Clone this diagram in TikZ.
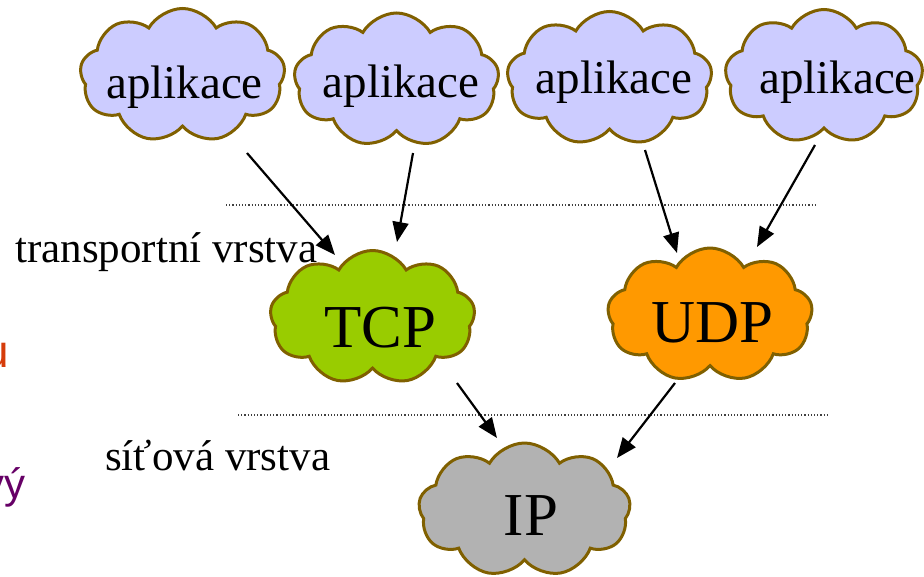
\documentclass[tikz,border=0pt]{standalone}
\usepackage{fontspec}
\setmainfont{Liberation Serif}
\newfontfamily\slidesans{Liberation Sans}
\usetikzlibrary{shapes.symbols,arrows.meta}
\definecolor{cloudline}{RGB}{128,96,0}
\definecolor{appfill}{RGB}{204,204,255}
\definecolor{tcpfill}{RGB}{153,204,0}
\definecolor{udpfill}{RGB}{255,153,0}
\definecolor{ipfill}{RGB}{178,178,178}
\definecolor{redtext}{RGB}{214,60,10}
\definecolor{purpletext}{RGB}{102,0,102}
\tikzset{
  cloudbox/.style={cloud, cloud puffs=9, cloud puff arc=120, cloud ignores aspect,
    draw=cloudline, line width=3pt, inner sep=0pt,
    minimum width=205pt, minimum height=134pt},
  apptext/.style={anchor=base, inner sep=0pt, font=\fontsize{47}{50}\selectfont},
  bigtext/.style={anchor=base, inner sep=0pt, font=\fontsize{61}{64}\selectfont},
  layertext/.style={anchor=base west, inner sep=0pt, font=\fontsize{43}{46}\selectfont},
  link/.style={line width=2.2pt, -{Triangle[length=20pt,width=16pt]}},
  sep/.style={line width=1.2pt, black!75, dash pattern=on 1.2pt off 2pt},
}
\begin{document}
\begin{tikzpicture}[x=1pt,y=-1pt]
\useasboundingbox (0,0) rectangle (924,576);
% clouds
\node[cloudbox, fill=appfill] (c1) at (182.5,75.5) {};
\node[cloudbox, fill=appfill] (c2) at (396.5,80) {};
\node[cloudbox, fill=appfill] (c3) at (609.5,78.5) {};
\node[cloudbox, fill=appfill, minimum width=198pt] (c4) at (824,76.5) {};
\node[cloudbox, fill=tcpfill] (tcp) at (372.5,317.5) {};
\node[cloudbox, fill=udpfill] (udp) at (710,315) {};
\node[cloudbox, fill=ipfill, minimum width=212pt] (ip) at (524.5,510) {};
% texts
\node[apptext] (t1) at (184.5,98) {aplikace};
\node[apptext] (t2) at (401,97) {aplikace};
\node[apptext] (t3) at (614,93) {aplikace};
\node[apptext] (t4) at (837.5,93) {aplikace};
\node[bigtext] (ttcp) at (380,347) {TCP};
\node[bigtext] (tudp) at (712.5,342) {UDP};
\node[bigtext] (tip) at (531,535) {IP};
\node[layertext] (lt) at (15,262) {transportní vrstva};
\node[layertext] (ls) at (105,470) {síťová vrstva};
% cut-off slide text at the left edge
\node[anchor=base east, inner sep=0pt, text=redtext, font=\slidesans\fontsize{46}{48}\selectfont] (lu) at (9,367) {u};
\node[anchor=base east, inner sep=0pt, text=purpletext, font=\slidesans\fontsize{42}{44}\selectfont] (lv) at (26,498) {vý};
% separators
\draw[sep] (226,205) -- (817,205);
\draw[sep] (238,415) -- (827,415);
% arrows
\draw[link] ([shift={(64.5,77.5)}]c1.center) -- ([shift={(-37.5,-62.5)}]tcp.center);
\draw[link] ([shift={(16.5,73)}]c2.center) -- ([shift={(24.5,-75.5)}]tcp.center);
\draw[link] ([shift={(35.5,71.5)}]c3.center) -- ([shift={(-33,-62)}]udp.center);
\draw[link] ([shift={(-9,68.5)}]c4.center) -- ([shift={(47,-68)}]udp.center);
\draw[link] ([shift={(84.5,65.5)}]tcp.center) -- ([shift={(-27.5,-72)}]ip.center);
\draw[link] ([shift={(-35,68)}]udp.center) -- ([shift={(92.5,-52)}]ip.center);
\end{tikzpicture}
\end{document}
